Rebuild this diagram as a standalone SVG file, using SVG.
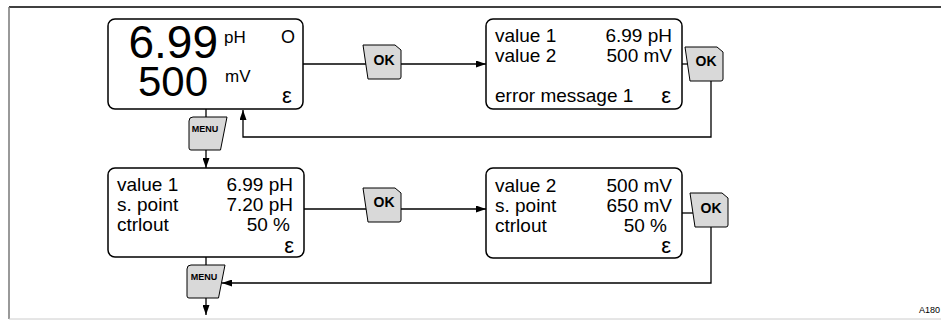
<svg xmlns="http://www.w3.org/2000/svg" width="941" height="320" viewBox="0 0 941 320">
<style>
.box{fill:#fff;stroke:#000;stroke-width:1.5}
.btn{fill:#d9d9d9;stroke:#000;stroke-width:1}
.ln{fill:none;stroke:#000;stroke-width:1.3}
.t{font-family:"Liberation Sans",Arial,sans-serif;fill:#000}
.v{font-size:19px}
.e{font-size:22px}
.u{font-size:17px}
.k{font-size:14px;font-weight:bold;text-anchor:middle}
.m{font-size:9px;font-weight:bold;text-anchor:middle}
.r{text-anchor:end}
</style>
<defs>
<marker id="ah" viewBox="0 0 10 7" refX="10" refY="3.5" markerWidth="10" markerHeight="7" markerUnits="userSpaceOnUse" orient="auto">
<path d="M0,0 L10,3.5 L0,7 Z" fill="#000"/>
</marker>
<path id="okp" d="M0,0 H32 L38,5 V32 Q38,34 36,34 H5 Z"/>
<path id="mnp" d="M0,4 Q0,0 4,0 H38 L31.5,33 H2 Q0,33 0,31 Z"/>
</defs>
<g id="frame">
<line x1="9" y1="7" x2="941" y2="7" stroke="#000" stroke-width="1.5"/>
<line x1="9" y1="7" x2="9" y2="319" stroke="#777" stroke-width="1.5"/>
<line x1="9" y1="319" x2="941" y2="319" stroke="#ccc" stroke-width="1"/>
</g>
<g id="connectors">
<path class="ln" d="M303,64 H486" marker-end="url(#ah)"/>
<path class="ln" d="M682,64 H692"/>
<path class="ln" d="M711,75 V137 H243 V110" marker-end="url(#ah)"/>
<path class="ln" d="M206,109 V168" marker-end="url(#ah)"/>
<path class="ln" d="M304,209 H486" marker-end="url(#ah)"/>
<path class="ln" d="M682,213 H697"/>
<path class="ln" d="M711,222 V283 H222" marker-end="url(#ah)"/>
<path class="ln" d="M206,257 V315" marker-end="url(#ah)"/>
</g>
<g id="display-main">
<rect class="box" x="108" y="19" width="195" height="90" rx="7"/>
<text class="t r" x="218" y="58" font-size="46">6.99</text>
<text class="t r" x="208" y="96" font-size="42">500</text>
<text class="t u" x="224" y="43">pH</text>
<text class="t u" x="225" y="82">mV</text>
<text class="t" x="281" y="43" font-size="18">O</text>
<text class="t e" x="282" y="103">ε</text>
</g>
<g id="display-error">
<rect class="box" x="486" y="19" width="196" height="90" rx="7"/>
<text class="t v" x="495" y="42">value 1</text>
<text class="t v r" x="672" y="42">6.99 pH</text>
<text class="t v" x="495" y="62">value 2</text>
<text class="t v r" x="672" y="62">500 mV</text>
<text class="t v" x="495" y="102">error message 1</text>
<text class="t e r" x="671" y="103">ε</text>
</g>
<g id="display-ctrl1">
<rect class="box" x="108" y="168" width="196" height="89" rx="7"/>
<text class="t v" x="117" y="191">value 1</text>
<text class="t v r" x="293" y="191">6.99 pH</text>
<text class="t v" x="117" y="211">s. point</text>
<text class="t v r" x="293" y="211">7.20 pH</text>
<text class="t v" x="117" y="231">ctrlout</text>
<text class="t v r" x="290" y="231">50 %</text>
<text class="t e r" x="294" y="253">ε</text>
</g>
<g id="display-ctrl2">
<rect class="box" x="486" y="168" width="196" height="90" rx="7"/>
<text class="t v" x="495" y="192">value 2</text>
<text class="t v r" x="672" y="192">500 mV</text>
<text class="t v" x="495" y="212">s. point</text>
<text class="t v r" x="672" y="212">650 mV</text>
<text class="t v" x="495" y="232">ctrlout</text>
<text class="t v r" x="667" y="232">50 %</text>
<text class="t e r" x="671" y="253">ε</text>
</g>
<g id="ok-1">
<use href="#okp" class="btn" x="363" y="45"/>
<text class="t k" x="384" y="65">OK</text>
</g>
<g id="ok-2">
<use href="#okp" class="btn" x="685" y="47"/>
<text class="t k" x="706" y="66">OK</text>
</g>
<g id="ok-3">
<use href="#okp" class="btn" x="363" y="188"/>
<text class="t k" x="384" y="207">OK</text>
</g>
<g id="ok-4">
<use href="#okp" class="btn" x="690" y="193"/>
<text class="t k" x="711" y="213">OK</text>
</g>
<g id="menu-1">
<use href="#mnp" class="btn" x="189" y="117"/>
<text class="t m" x="205" y="132">MENU</text>
</g>
<g id="menu-2">
<use href="#mnp" class="btn" x="187" y="265"/>
<text class="t m" x="204" y="280">MENU</text>
</g>
<text class="t" x="919" y="313" font-size="9">A180</text>
</svg>
